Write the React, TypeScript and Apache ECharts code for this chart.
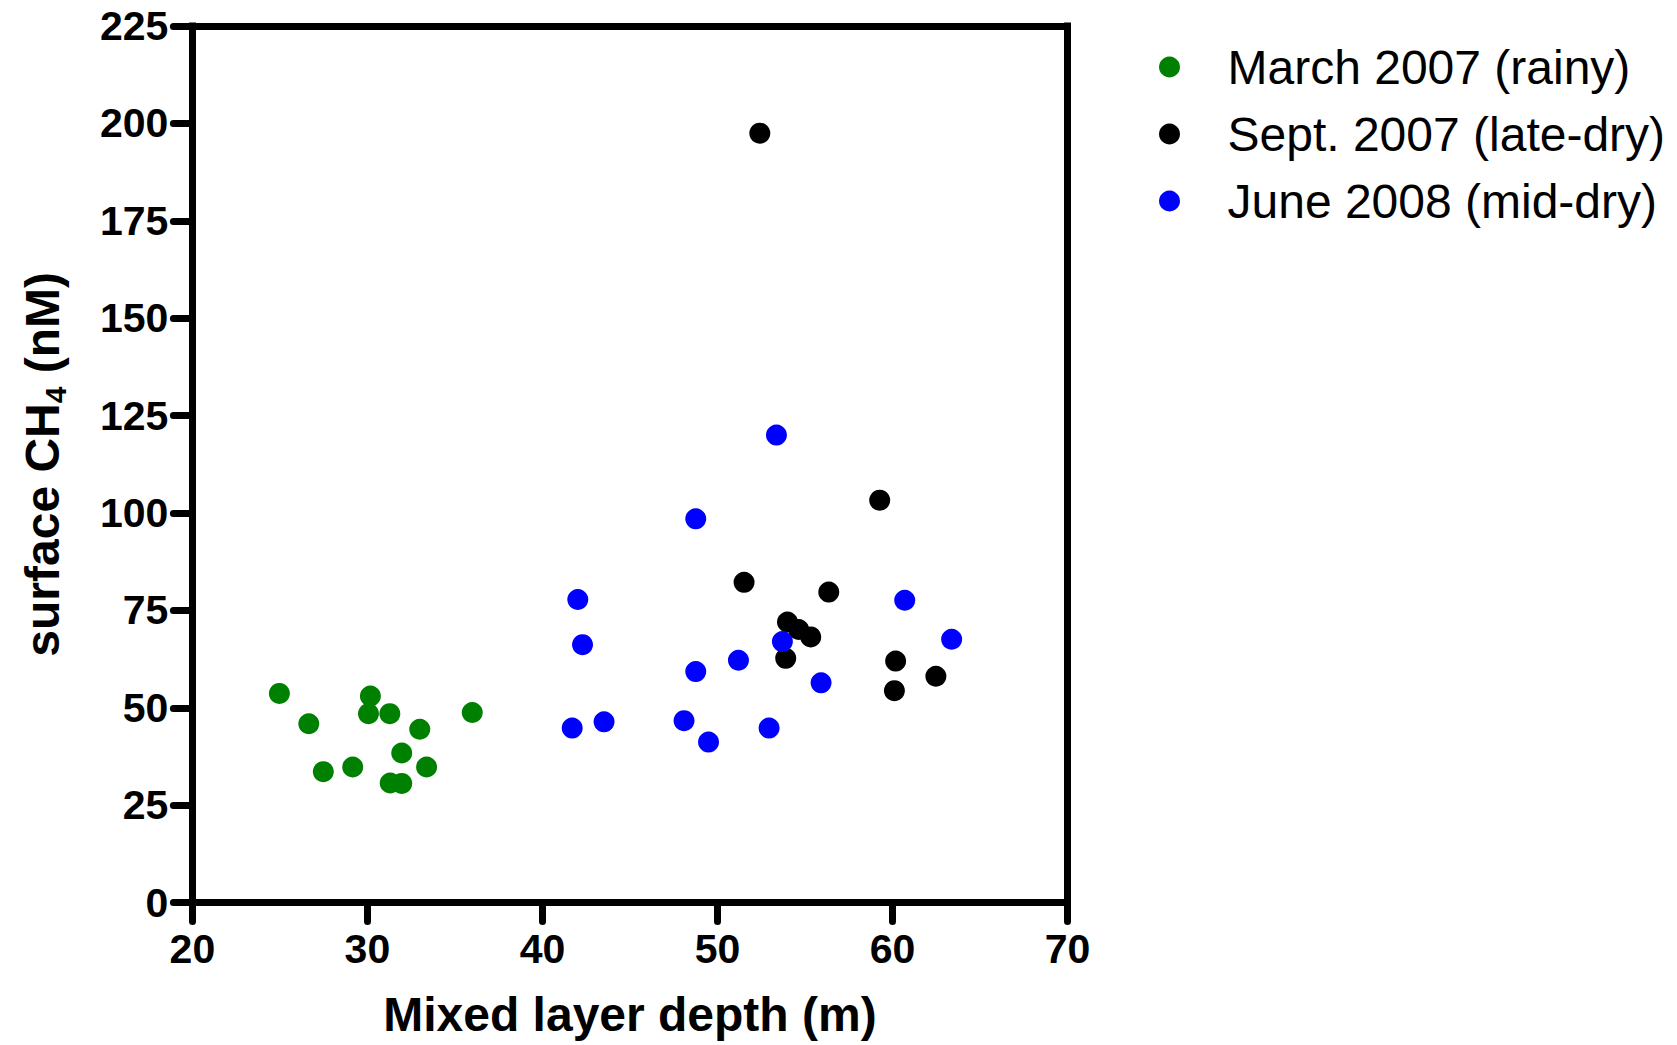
import React, { useEffect, useRef } from "react";
import * as echarts from "echarts";

const seriesNames = ["March 2007 (rainy)", "Sept. 2007 (late-dry)", "June 2008 (mid-dry)"];
const seriesColors = ["#008000", "#000000", "#0000ff"];

const marchDepth = [24.97, 26.65, 27.48, 29.16, 30.17, 30.06, 31.28, 32.99, 31.96, 33.38, 31.3, 31.96, 35.99];
const marchCH4 = [53.7, 45.9, 33.6, 34.8, 53.0, 48.5, 48.5, 44.5, 38.4, 34.8, 30.7, 30.6, 48.8];

const septDepth = [52.42, 51.52, 56.36, 59.27, 54.0, 54.64, 55.33, 53.9, 60.18, 60.11, 62.48];
const septCH4 = [197.5, 82.2, 79.7, 103.3, 72.0, 70.1, 68.2, 62.7, 62.0, 54.4, 58.1];

const juneDepth = [53.37, 48.76, 42.02, 42.29, 48.76, 51.2, 53.71, 55.92, 60.7, 63.38, 41.7, 43.52, 48.09, 49.49, 52.95];
const juneCH4 = [120.0, 98.5, 77.8, 66.2, 59.3, 62.2, 67.0, 56.4, 77.6, 67.6, 44.8, 46.4, 46.7, 41.2, 44.8];

const xMin = 20;
const xMax = 70;
const xStep = 10;
const yMin = 0;
const yMax = 225;
const yStep = 25;

const xTitle = "Mixed layer depth (m)";
const yTitle = "{a|surface CH}{s|4}{a| (nM)}";

const FONT = "'Liberation Sans', Arial, Helvetica, sans-serif";

function pairs(xs: number[], ys: number[]) {
  return xs.map((x, i) => [x, ys[i]]);
}

export default function App() {
  const ref = useRef<HTMLDivElement>(null);

  useEffect(() => {
    if (!ref.current) return;
    const chart = echarts.init(ref.current, null, { renderer: "svg" });
    const axisLine = { show: true, onZero: false, lineStyle: { color: "#000", width: 7, cap: "square" } };
    const tick = { show: true, inside: false, length: 19, lineStyle: { color: "#000", width: 7, cap: "round" } };
    const data = [pairs(marchDepth, marchCH4), pairs(septDepth, septCH4), pairs(juneDepth, juneCH4)];

    chart.setOption({
      animation: false,
      backgroundColor: "#fff",
      textStyle: { fontFamily: FONT },
      grid: { left: 192.4, top: 26, right: 1677 - 1067.5, bottom: 1045 - 902.6, containLabel: false },
      legend: {
        orient: "vertical",
        left: 1154,
        top: 38,
        itemWidth: 106,
        itemHeight: 21,
        itemGap: 19,
        icon: "circle",
        selectedMode: false,
        data: seriesNames,
        textStyle: { fontSize: 48, color: "#000", fontFamily: FONT },
      },
      xAxis: [
        {
          type: "value",
          min: xMin,
          max: xMax,
          interval: xStep,
          position: "bottom",
          axisLine,
          axisTick: tick,
          splitLine: { show: false },
          axisLabel: { fontSize: 41, fontWeight: "bold", color: "#000", margin: 26, fontFamily: FONT },
          name: xTitle,
          nameLocation: "middle",
          nameGap: 88,
          nameTextStyle: { fontSize: 48, fontWeight: "bold", color: "#000", fontFamily: FONT },
        },
        {
          type: "value",
          min: xMin,
          max: xMax,
          position: "top",
          axisLine,
          axisTick: { show: false },
          axisLabel: { show: false },
          splitLine: { show: false },
        },
      ],
      yAxis: [
        {
          type: "value",
          min: yMin,
          max: yMax,
          interval: yStep,
          position: "left",
          axisLine,
          axisTick: tick,
          splitLine: { show: false },
          axisLabel: { fontSize: 41, fontWeight: "bold", color: "#000", margin: 24, fontFamily: FONT },
          name: yTitle,
          nameLocation: "middle",
          nameGap: 126,
          nameTextStyle: {
            fontSize: 48,
            fontWeight: "bold",
            color: "#000",
            fontFamily: FONT,
            rich: {
              a: { fontSize: 48, fontWeight: "bold", color: "#000", fontFamily: FONT },
              s: { fontSize: 30, fontWeight: "bold", color: "#000", fontFamily: FONT, verticalAlign: "bottom", padding: [0, 0, -4, 0] },
            },
          },
        },
        {
          type: "value",
          min: yMin,
          max: yMax,
          position: "right",
          axisLine,
          axisTick: { show: false },
          axisLabel: { show: false },
          splitLine: { show: false },
        },
      ],
      series: seriesNames.map((name, i) => ({
        name,
        type: "scatter",
        xAxisIndex: 0,
        yAxisIndex: 0,
        symbol: "circle",
        symbolSize: 21,
        itemStyle: { color: seriesColors[i], opacity: 1 },
        data: data[i],
        z: 2 + i,
      })),
    });
    return () => chart.dispose();
  }, []);

  return (
    <div
      ref={ref}
      style={{ position: "fixed", left: 0, top: 0, width: 1677, height: 1045, background: "#fff" }}
    />
  );
}
